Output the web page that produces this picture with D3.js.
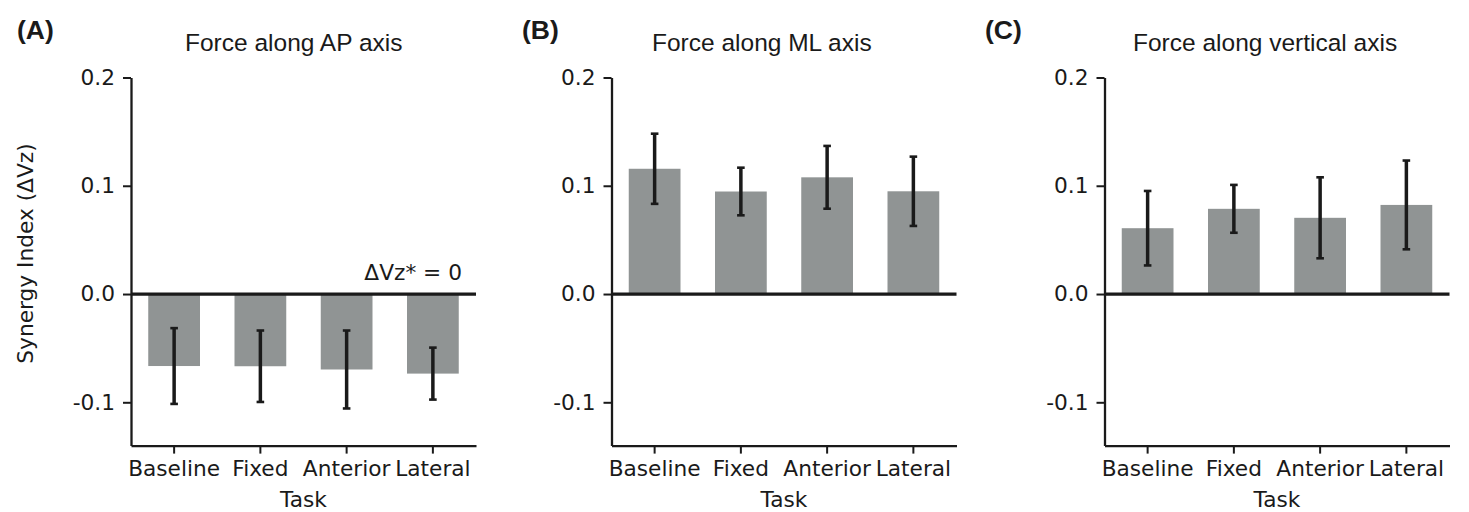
<!DOCTYPE html>
<html>
<head>
<meta charset="utf-8">
<script src="https://cdn.jsdelivr.net/npm/d3@7"></script>
<style>
  html, body { margin: 0; padding: 0; background: #fff; }
  svg { display: block; }
</style>
</head>
<body>
<svg id="chart" width="1469" height="512"></svg>
<script>
// ---- Data ----
const categories = ["Baseline", "Fixed", "Anterior", "Lateral"];
const panelLabels = ["(A)", "(B)", "(C)"];
const panelTitles = ["Force along AP axis", "Force along ML axis", "Force along vertical axis"];
const apMeans = [-0.0665, -0.0667, -0.0697, -0.0735];
const apErrors = [0.035, 0.033, 0.036, 0.024];
const mlMeans = [0.1157, 0.0947, 0.1078, 0.0949];
const mlErrors = [0.0324, 0.022, 0.029, 0.032];
const vertMeans = [0.0608, 0.0787, 0.0704, 0.0823];
const vertErrors = [0.0344, 0.0221, 0.0374, 0.041];
const yTicks = [0.2, 0.1, 0.0, -0.1];
const yDomain = [-0.14, 0.2];
const yLabel = "Synergy Index (\u0394Vz)";
const xLabel = "Task";
const annotation = "\u0394Vz* = 0";

const panels = [
  { label: panelLabels[0], title: panelTitles[0], means: apMeans, errors: apErrors },
  { label: panelLabels[1], title: panelTitles[1], means: mlMeans, errors: mlErrors },
  { label: panelLabels[2], title: panelTitles[2], means: vertMeans, errors: vertErrors }
];

// ---- Layout ----
const axLeft = [131, 611.5, 1104.5];
const axWidth = 345;
const axTop = 77.5, axBottom = 445.6;
const labelX = [17, 522, 985];
const titleX = [185, 652, 1133];
const ink = "#1a1a1a";
const barColor = "#909494";
const tickFont = "'DejaVu Sans', sans-serif";
const titleFont = "'Liberation Sans', Arial, sans-serif";
const tickSize = 21.7;

const svg = d3.select("#chart");

const y = d3.scaleLinear().domain(yDomain).range([axBottom, axTop]);

panels.forEach((p, i) => {
  const L = axLeft[i];
  const x = d3.scaleBand().domain(categories).range([L, L + axWidth])
    .paddingInner(0.4).paddingOuter(0.2);
  const g = svg.append("g");

  // bars
  g.selectAll("rect.bar").data(categories).enter().append("rect")
    .attr("class", "bar")
    .attr("x", d => x(d))
    .attr("width", x.bandwidth())
    .attr("y", (d, j) => y(Math.max(0, p.means[j])))
    .attr("height", (d, j) => Math.abs(y(p.means[j]) - y(0)))
    .attr("fill", barColor);

  // zero line
  g.append("line")
    .attr("x1", L).attr("x2", L + axWidth)
    .attr("y1", y(0)).attr("y2", y(0))
    .attr("stroke", ink).attr("stroke-width", 3.2);

  // error bars
  const eb = g.selectAll("g.err").data(categories).enter().append("g").attr("class", "err");
  const cx = d => x(d) + x.bandwidth() / 2;
  eb.append("line")
    .attr("x1", cx).attr("x2", cx)
    .attr("y1", (d, j) => y(p.means[j] + p.errors[j]))
    .attr("y2", (d, j) => y(p.means[j] - p.errors[j]))
    .attr("stroke", ink).attr("stroke-width", 3.5);
  [1, -1].forEach(s => {
    eb.append("line")
      .attr("x1", d => cx(d) - 3.8).attr("x2", d => cx(d) + 3.8)
      .attr("y1", (d, j) => y(p.means[j] + s * p.errors[j]))
      .attr("y2", (d, j) => y(p.means[j] + s * p.errors[j]))
      .attr("stroke", ink).attr("stroke-width", 2.6);
  });

  // y axis
  const yAxis = d3.axisLeft(y).tickValues(yTicks).tickFormat(d3.format(".1f"))
    .tickSizeOuter(0).tickSizeInner(8).tickPadding(8);
  const ya = g.append("g").attr("transform", `translate(${L},0)`).call(yAxis);
  ya.select(".domain").attr("stroke", ink).attr("stroke-width", 2.3);
  ya.selectAll(".tick line").attr("stroke", ink).attr("stroke-width", 2);
  ya.selectAll(".tick text")
    .text(d => d3.format(".1f")(d).replace("\u2212", "-"))
    .attr("fill", ink).attr("font-family", tickFont).attr("font-size", tickSize);

  // x axis
  const xAxis = d3.axisBottom(x).tickSizeOuter(0).tickSizeInner(8).tickPadding(7);
  const xa = g.append("g").attr("transform", `translate(0,${axBottom})`).call(xAxis);
  xa.select(".domain").attr("stroke", ink).attr("stroke-width", 2.3);
  xa.selectAll(".tick line").attr("stroke", ink).attr("stroke-width", 2);
  xa.selectAll(".tick text")
    .attr("fill", ink).attr("font-family", tickFont).attr("font-size", tickSize);

  // x label
  g.append("text")
    .attr("x", L + axWidth / 2).attr("y", 506.5)
    .attr("text-anchor", "middle")
    .attr("fill", ink).attr("font-family", tickFont).attr("font-size", tickSize)
    .text(xLabel);

  // title
  g.append("text")
    .attr("x", titleX[i]).attr("y", 51)
    .attr("fill", ink).attr("font-family", titleFont).attr("font-size", 24.5)
    .text(p.title);

  // panel label
  g.append("text")
    .attr("x", labelX[i]).attr("y", 38.5)
    .attr("fill", ink).attr("font-family", titleFont).attr("font-weight", "bold")
    .attr("font-size", 26.5)
    .text(p.label);

  if (i === 0) {
    g.append("text")
      .attr("transform", `translate(33,${(axTop + axBottom) / 2 - 8}) rotate(-90)`)
      .attr("text-anchor", "middle")
      .attr("fill", ink).attr("font-family", tickFont).attr("font-size", tickSize)
      .text(yLabel);
    g.append("text")
      .attr("x", 462).attr("y", y(0) - 14)
      .attr("text-anchor", "end")
      .attr("fill", ink).attr("font-family", tickFont).attr("font-size", tickSize)
      .text(annotation);
  }
});
</script>
</body>
</html>
